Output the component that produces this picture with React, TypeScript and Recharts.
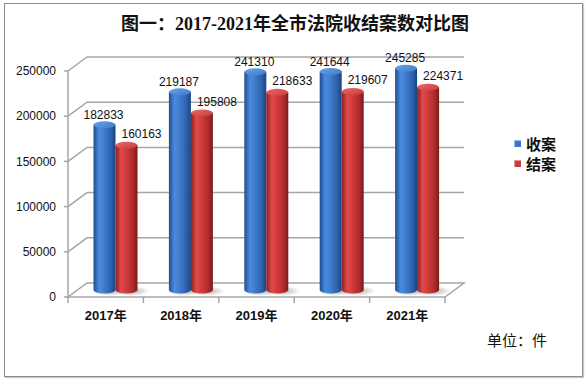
import React from "react";
import { BarChart, Bar, XAxis, YAxis, CartesianGrid, LabelList, Legend } from "recharts";

const years = ["2017年", "2018年", "2019年", "2020年", "2021年"];
const received = [182833, 219187, 241310, 241644, 245285];
const closed = [160163, 195808, 218633, 219607, 224371];
const yTicks = [0, 50000, 100000, 150000, 200000, 250000];

const data = years.map((year, i) => ({ year, received: received[i], closed: closed[i] }));

// half of the 3D depth: bars sit in the middle, grid on the back wall, axes on the front
const DX = 9.5;
const DY = 7;
const GRID = "#a6a6a6";
const SANS = "'Liberation Sans', 'Noto Sans CJK SC', sans-serif";

function Cylinder(props: any) {
  const { x, y, width, height, tone } = props;
  if (!height || height <= 0) return null;
  const rx = width / 2;
  const ry = 3.5;
  const cx = x + rx;
  const bottom = y + height;
  return (
    <g>
      <ellipse cx={cx + 5} cy={bottom + 1} rx={rx + 7} ry={5} fill="url(#floorShadow)" />
      <path
        d={`M${x},${y} L${x},${bottom} A${rx},${ry} 0 0 0 ${x + width},${bottom} L${x + width},${y} Z`}
        fill={`url(#${tone}Body)`}
      />
      <ellipse cx={cx} cy={y} rx={rx} ry={ry} fill={`url(#${tone}Top)`} />
    </g>
  );
}

const makeLabel = (dx: number, dy: number) => (props: any) => {
  const { x, y, width, value } = props;
  return (
    <text x={x + width / 2 + dx} y={y - dy} textAnchor="middle" fontSize={12} fill="#111" fontFamily={SANS}>
      {value}
    </text>
  );
};

const gridLine = (props: any) => {
  const { x1, x2, y1, y, height, index } = props;
  const bottom = y + height;
  if (Math.abs(y1 - bottom) < 0.5) {
    const pts = [
      [x1 - DX, y1 + DY],
      [x2 - DX, y1 + DY],
      [x2 + DX, y1 - DY],
      [x1 + DX, y1 - DY],
    ]
      .map((p) => p.join(","))
      .join(" ");
    return <polygon key={`floor-${index}`} points={pts} fill="#fff" stroke={GRID} strokeWidth={1.5} />;
  }
  const line = (
    <polyline
      key={`grid-${index}`}
      points={`${x1 - DX},${y1 + DY} ${x1 + DX},${y1 - DY} ${x2 + DX},${y1 - DY}`}
      fill="none"
      stroke={GRID}
      strokeWidth={1.5}
    />
  );
  if (Math.abs(y1 - y) < 0.5) {
    return (
      <g key={`top-${index}`}>
        {line}
        <line x1={x1 - DX} y1={y1 + DY} x2={x1 - DX} y2={bottom + DY} stroke={GRID} strokeWidth={1.5} />
      </g>
    );
  }
  return line;
};

const YTick = (props: any) => {
  const { x, y, payload } = props;
  const fx = x - DX;
  const fy = y + DY;
  return (
    <g>
      <line x1={fx - 4} y1={fy} x2={fx} y2={fy} stroke={GRID} strokeWidth={1.5} />
      <text x={fx - 12} y={fy} dy="0.35em" textAnchor="end" fontSize={12} fill="#111" fontFamily={SANS}>
        {payload.value}
      </text>
    </g>
  );
};

const XTick = (props: any) => {
  const { x, y, payload, index, visibleTicksCount } = props;
  const half = payload && payload.offset ? payload.offset : 37.7;
  const fx = x - DX;
  const fy = y + DY;
  return (
    <g>
      <line x1={fx - half} y1={fy} x2={fx - half} y2={fy + 6} stroke={GRID} strokeWidth={1.5} />
      {index === visibleTicksCount - 1 && (
        <line x1={fx + half} y1={fy} x2={fx + half} y2={fy + 6} stroke={GRID} strokeWidth={1.5} />
      )}
      <text x={fx} y={fy + 23} textAnchor="middle" fontSize={13} fontWeight="bold" fill="#111" fontFamily={SANS}>
        {payload.value}
      </text>
    </g>
  );
};

const renderLegend = (props: any) => {
  const { payload } = props;
  return (
    <div>
      {(payload || []).map((entry: any) => (
        <div key={entry.value} style={{ display: "flex", alignItems: "center", height: 20 }}>
          <span
            style={{
              display: "inline-block",
              width: 7,
              height: 7,
              background: entry.color,
              boxShadow: "inset 1px 1px 1px rgba(255,255,255,0.5)",
              marginRight: 5,
            }}
          />
          <span style={{ fontSize: 15, fontWeight: "bold", color: "#111", fontFamily: SANS }}>{entry.value}</span>
        </div>
      ))}
    </div>
  );
};

export default function App() {
  return (
    <div style={{ position: "absolute", left: 0, top: 0, width: 585, height: 379, background: "#fff" }}>
      <div
        style={{
          position: "absolute",
          left: 4,
          top: 3,
          width: 577,
          height: 372,
          border: "1px solid #8c8c8c",
          boxShadow: "1px 1px 1px #c8c8c8",
        }}
      />
      <div
        style={{
          position: "absolute",
          left: 0,
          top: 14,
          width: 590,
          textAlign: "center",
          fontSize: 18,
          lineHeight: "20px",
          fontWeight: "bold",
          color: "#111",
          fontFamily: "'Liberation Serif', 'Noto Sans CJK SC', serif",
        }}
      >
        图一：2017-2021年全市法院收结案数对比图
      </div>
      <div style={{ position: "absolute", left: 0, top: 0 }}>
        <BarChart
          width={585}
          height={379}
          data={data}
          margin={{ top: 64, right: 130.5, bottom: 0, left: 0 }}
          barGap={0}
          barSize={22}
        >
          <defs>
            <linearGradient id="blueBody" x1="0" y1="0" x2="1" y2="0">
              <stop offset="0%" stopColor="#1e4c92" />
              <stop offset="25%" stopColor="#4a8bdb" />
              <stop offset="45%" stopColor="#427fd0" />
              <stop offset="80%" stopColor="#2c61ab" />
              <stop offset="100%" stopColor="#1b427f" />
            </linearGradient>
            <linearGradient id="blueTop" x1="0" y1="0" x2="1" y2="1">
              <stop offset="0%" stopColor="#6aa4ea" />
              <stop offset="100%" stopColor="#3f7ac8" />
            </linearGradient>
            <linearGradient id="redBody" x1="0" y1="0" x2="1" y2="0">
              <stop offset="0%" stopColor="#8c1e1e" />
              <stop offset="25%" stopColor="#e04a4a" />
              <stop offset="45%" stopColor="#d43d3d" />
              <stop offset="80%" stopColor="#ad2b2b" />
              <stop offset="100%" stopColor="#7a1a1a" />
            </linearGradient>
            <linearGradient id="redTop" x1="0" y1="0" x2="1" y2="1">
              <stop offset="0%" stopColor="#ea6a6a" />
              <stop offset="100%" stopColor="#c83a3a" />
            </linearGradient>
            <radialGradient id="floorShadow" cx="50%" cy="50%" r="50%">
              <stop offset="0%" stopColor="#7a7a7a" stopOpacity={0.6} />
              <stop offset="100%" stopColor="#7a7a7a" stopOpacity={0} />
            </radialGradient>
          </defs>
          <CartesianGrid vertical={false} horizontal={gridLine} />
          <XAxis
            dataKey="year"
            height={89}
            axisLine={false}
            tickLine={false}
            tickSize={0}
            tickMargin={0}
            tick={<XTick />}
            interval={0}
          />
          <YAxis
            width={77.5}
            domain={[0, 250000]}
            ticks={yTicks}
            axisLine={false}
            tickLine={false}
            tickSize={0}
            tickMargin={0}
            tick={<YTick />}
            interval={0}
          />
          <Legend
            layout="horizontal"
            align="center"
            verticalAlign="middle"
            content={renderLegend}
            wrapperStyle={{ left: 514, top: 133, width: 70, height: 42 }}
          />
          <Bar
            dataKey="received"
            name="收案"
            fill="#3b75c6"
            legendType="square"
            isAnimationActive={false}
            shape={(p: any) => <Cylinder {...p} tone="blue" />}
          >
            <LabelList dataKey="received" content={makeLabel(-1, 6)} />
          </Bar>
          <Bar
            dataKey="closed"
            name="结案"
            fill="#c83a3a"
            legendType="square"
            isAnimationActive={false}
            shape={(p: any) => <Cylinder {...p} tone="red" />}
          >
            <LabelList dataKey="closed" content={makeLabel(15, 7)} />
          </Bar>
        </BarChart>
      </div>
      <div
        style={{
          position: "absolute",
          left: 487,
          top: 330,
          fontSize: 15,
          lineHeight: "20px",
          color: "#111",
          fontFamily: "'Noto Sans CJK SC', sans-serif",
        }}
      >
        单位：件
      </div>
    </div>
  );
}
